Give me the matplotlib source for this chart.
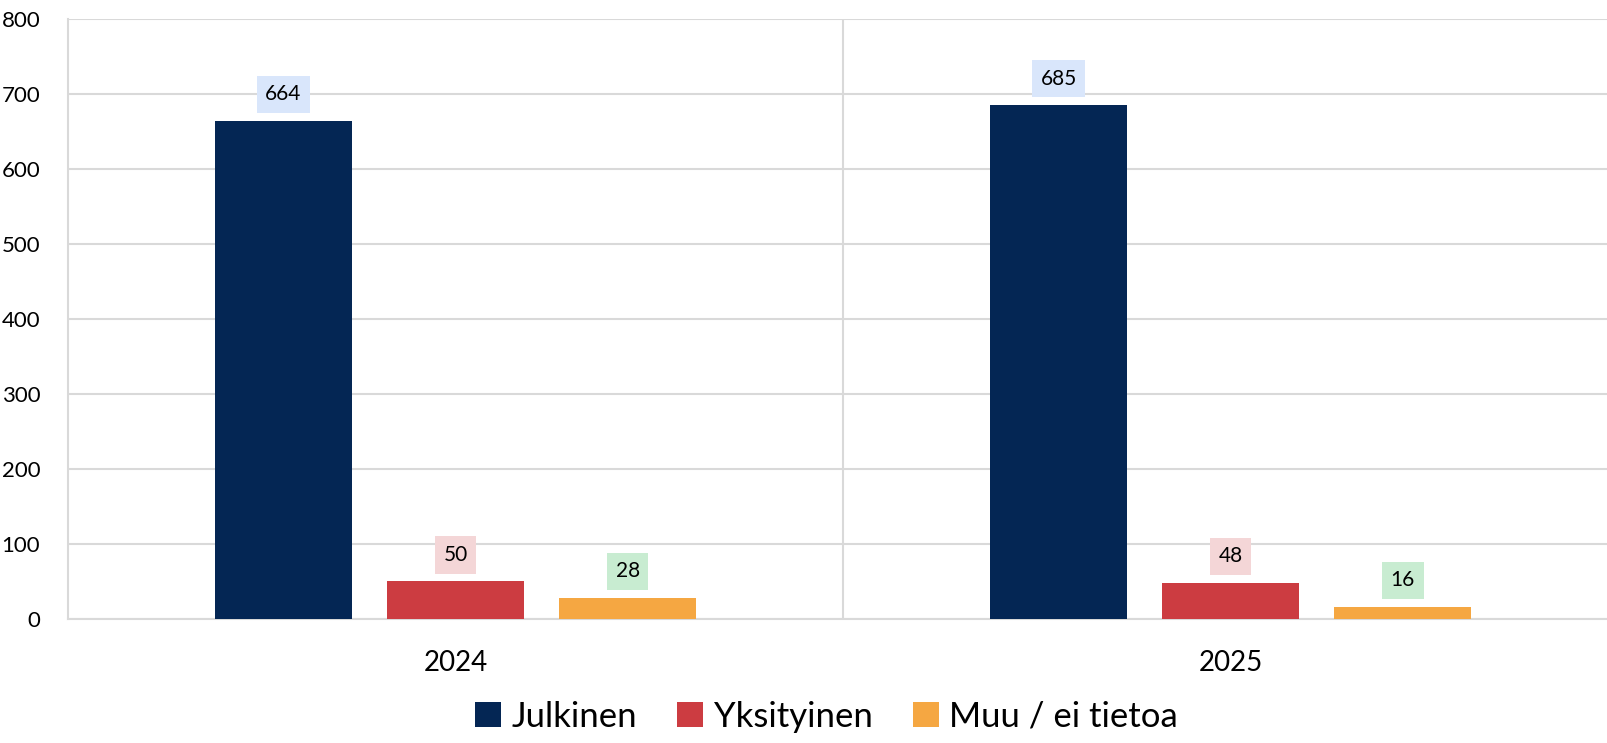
import numpy as np
import matplotlib
matplotlib.use('Agg')
import matplotlib.pyplot as plt

plt.rcParams['font.family'] = ['Lato', 'DejaVu Sans']

# data
years = ['2024', '2025']
series = ['Julkinen', 'Yksityinen', 'Muu / ei tietoa']
julkinen = [664, 685]
yksityinen = [50, 48]
muu = [28, 16]
values = [julkinen, yksityinen, muu]

bar_colors = ['#042654', '#cc3c41', '#f5a742']
label_bg = ['#d9e6fb', '#f4d6d7', '#c8ecd1']

fig = plt.figure(figsize=(16.08, 7.43), dpi=100)
ax = fig.add_axes([0.0423, 0.1669, 0.964, 0.8075])

x = np.arange(len(years))
width = 0.176
step = 0.222

for i, (name, vals) in enumerate(zip(series, values)):
    pos = x + (i - 1) * step
    bars = ax.bar(pos, vals, width, color=bar_colors[i], label=name, zorder=3)
    for b, v in zip(bars, vals):
        ax.annotate(str(v), (b.get_x() + b.get_width() / 2, v),
                    xytext=(0, 12), textcoords='offset points',
                    ha='center', va='bottom', fontsize=15, color='black',
                    bbox=dict(boxstyle='square,pad=0.42', fc=label_bg[i], ec='none'),
                    zorder=4)

ax.set_xlim(-0.5, 1.5)
ax.set_ylim(0, 800)
ax.set_yticks(range(0, 801, 100))
ax.set_xticks(x)
ax.set_xticklabels(years, fontsize=20)
ax.tick_params(axis='y', labelsize=16, length=0, pad=20)
ax.tick_params(axis='x', length=0, pad=22)

ax.grid(axis='y', color='#d9d9d9', linewidth=1.5, zorder=0)
for xv in [0.5]:
    ax.axvline(xv, color='#d9d9d9', linewidth=1.5, zorder=0)
for s in ['top', 'right']:
    ax.spines[s].set_visible(False)
ax.spines['left'].set_color('#d9d9d9')
ax.spines['left'].set_linewidth(1.5)
ax.spines['bottom'].set_color('#d9d9d9')
ax.spines['bottom'].set_linewidth(1.5)

fig.legend(loc='lower center', bbox_to_anchor=(0.514, -0.028), ncol=3, frameon=False,
           fontsize=25, handlelength=0.75, handleheight=0.75, handletextpad=0.3,
           columnspacing=1.15)

fig.savefig('out.png', dpi=100)
